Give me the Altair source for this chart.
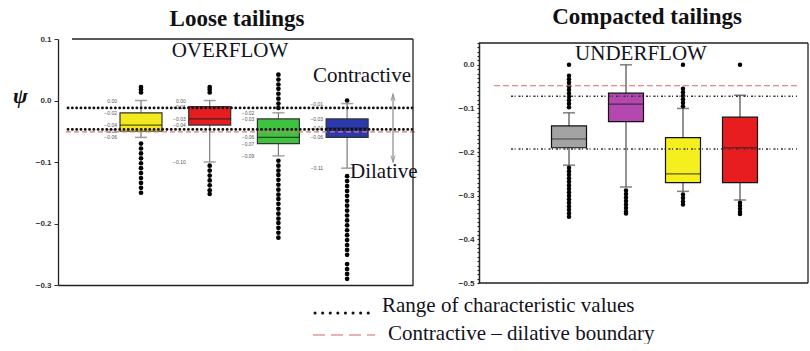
import altair as alt
import pandas as pd

SERIF = "Liberation Serif"
SANS = "Liberation Sans"

# ---------------- Loose tailings: overflow samples ----------------
of_groups = ["OF1", "OF2", "OF3", "OF4"]
of_fill = ["#f2ea1e", "#e41d20", "#3fc23f", "#2a3aac"]
of_whisker_lo = [-0.06, -0.10, -0.09, -0.11]
of_q1 = [-0.05, -0.04, -0.07, -0.06]
of_median = [-0.04, -0.03, -0.06, -0.045]
of_q3 = [-0.02, -0.01, -0.03, -0.03]
of_whisker_hi = [0.00, 0.00, -0.02, -0.005]

of1_outliers = [0.022, 0.018, 0.013, -0.070, -0.078, -0.086, -0.094, -0.102,
                -0.110, -0.118, -0.126, -0.134, -0.142, -0.150]
of2_outliers = [0.022, 0.018, 0.013, -0.106, -0.114, -0.122, -0.130, -0.138,
                -0.146, -0.152]
of3_outliers = [0.042, 0.034, 0.026, 0.019, 0.011, 0.003, -0.005, -0.012,
                -0.098, -0.106, -0.114, -0.121, -0.129, -0.137, -0.145, -0.153,
                -0.160, -0.168, -0.176, -0.184, -0.192, -0.199, -0.207, -0.215,
                -0.223]
of4_outliers = [0.000, -0.123, -0.131, -0.139, -0.147, -0.155, -0.163, -0.171,
                -0.179, -0.187, -0.195, -0.203, -0.211, -0.219, -0.227, -0.235,
                -0.243, -0.251, -0.266, -0.274, -0.282, -0.290]

of_char_range = [-0.012, -0.047]
of_boundary = -0.051
of_ticks = [0.1, 0.0, -0.1, -0.2, -0.3]

# ---------------- Compacted tailings: underflow samples ----------------
uf_groups = ["UF1", "UF2", "UF3", "UF4"]
uf_fill = ["#a3a3a3", "#b548b0", "#f6ef1e", "#e81d1f"]
uf_whisker_lo = [-0.23, -0.28, -0.29, -0.31]
uf_q1 = [-0.19, -0.13, -0.27, -0.27]
uf_median = [-0.17, -0.09, -0.25, -0.19]
uf_q3 = [-0.14, -0.065, -0.167, -0.12]
uf_whisker_hi = [-0.11, 0.00, -0.10, -0.07]

uf1_outliers = [0.000, -0.025, -0.033, -0.041, -0.049, -0.057, -0.065, -0.073,
                -0.081, -0.089, -0.097, -0.236, -0.244, -0.252, -0.260, -0.268,
                -0.276, -0.284, -0.292, -0.300, -0.308, -0.316, -0.324, -0.332,
                -0.340, -0.348]
uf2_outliers = [-0.288, -0.296, -0.304, -0.312, -0.320, -0.328, -0.336, -0.341]
uf3_outliers = [0.000, -0.055, -0.063, -0.071, -0.079, -0.087, -0.095,
                -0.297, -0.305, -0.313, -0.320]
uf4_outliers = [0.000, -0.316, -0.323, -0.330, -0.337, -0.342]

uf_char_range = [-0.072, -0.193]
uf_boundary = -0.048
uf_minor_ticks = [round(-0.5 + 0.01 * i, 2) for i in range(56)]

# ---------------- texts ----------------
title_left = "Loose tailings"
title_right = "Compacted tailings"
tag_left = "OVERFLOW"
tag_right = "UNDERFLOW"
zone_up = "Contractive"
zone_down = "Dilative"
y_symbol = "ψ"
legend_range = "Range of characteristic values"
legend_boundary = "Contractive – dilative boundary"

INK = "#12121c"


def box_table(groups, fill, lo, q1, med, q3, hi):
    return pd.DataFrame({"grp": groups, "fill": fill, "lo": lo, "q1": q1,
                         "med": med, "q3": q3, "hi": hi})


def outlier_table(groups, lists):
    rows = [{"grp": g, "v": v} for g, vals in zip(groups, lists) for v in vals]
    return pd.DataFrame(rows)


def text(label, x, y, size, align="left", weight="normal", style="normal",
         font=SERIF, color=INK, baseline="alphabetic"):
    return alt.Chart(pd.DataFrame({"label": [label]})).mark_text(
        align=align, baseline=baseline, font=font, fontSize=size,
        fontWeight=weight, fontStyle=style, color=color,
    ).encode(x=alt.value(x), y=alt.value(y), text="label:N")


class Panel:
    """Helper holding the shared y scale/axis of one box-plot panel."""

    def __init__(self, yscale, yaxis):
        self.yscale = yscale
        self.yaxis = yaxis

    def Y(self, field):
        return alt.Y(field, scale=self.yscale, axis=self.yaxis, title=None)

    def hline(self, value, x0, x1, color, width, dash, cap="butt"):
        return alt.Chart(pd.DataFrame({"v": [value]})).mark_rule(
            color=color, strokeWidth=width, strokeDash=dash, strokeCap=cap
        ).encode(y=self.Y("v:Q"), x=alt.value(x0), x2=alt.value(x1))

    def vline(self, top, bottom, x, color, width):
        return alt.Chart(pd.DataFrame({"a": [top], "b": [bottom]})).mark_rule(
            color=color, strokeWidth=width
        ).encode(y=self.Y("a:Q"), y2="b:Q", x=alt.value(x))

    def boxes(self, boxes, outs, x, whisker_color, box_stroke, cap_size,
              box_size, dot_size):
        base = alt.Chart(boxes)
        whisk = base.mark_rule(color=whisker_color, strokeWidth=1.2).encode(
            x=x, y=self.Y("lo:Q"), y2="hi:Q")
        cap_lo = base.mark_tick(color=whisker_color, size=cap_size, thickness=1.5,
                                orient="horizontal").encode(x=x, y=self.Y("lo:Q"))
        cap_hi = base.mark_tick(color=whisker_color, size=cap_size, thickness=1.5,
                                orient="horizontal").encode(x=x, y=self.Y("hi:Q"))
        box = base.mark_bar(stroke=box_stroke, strokeWidth=1.2).encode(
            x=x, y=self.Y("q1:Q"), y2="q3:Q",
            fill=alt.Fill("fill:N", scale=None))
        med = base.mark_tick(color="#1a1a1a", size=box_size, thickness=1.2,
                             orient="horizontal").encode(x=x, y=self.Y("med:Q"))
        dots = alt.Chart(outs).mark_circle(color="black", opacity=1, size=dot_size).encode(
            x=x, y=self.Y("v:Q"))
        return [whisk, cap_lo, cap_hi, box, med, dots]


# ================= left panel =================
LW, LH = 355, 246
of_boxes = box_table(of_groups, of_fill, of_whisker_lo, of_q1, of_median, of_q3, of_whisker_hi)
of_outs = outlier_table(of_groups, [of1_outliers, of2_outliers, of3_outliers, of4_outliers])

x_left = alt.X("grp:N", title=None,
               scale=alt.Scale(domain=of_groups, paddingInner=0.389,
                               paddingOuter=0.778, align=0.58),
               axis=alt.Axis(labels=False, ticks=False, domainColor="#222",
                             domainWidth=1.3, grid=False))
lp = Panel(
    alt.Scale(domain=[-0.3, 0.1], nice=False, zero=False),
    alt.Axis(values=of_ticks, format=".1f", labelFont=SANS,
             labelFontSize=8, labelFontWeight="bold", labelColor="#333",
             tickColor="#333", tickSize=4, domainColor="#222",
             domainWidth=1.3, grid=False, labelPadding=3,
             labelFlush=False, labelOverlap=False),
)

left_layers = lp.boxes(of_boxes, of_outs, x_left, "#7a7a7a", "#333", 12, 42, 22)

# tiny value labels to the left of each box
of_stats = of_boxes.melt(id_vars=["grp"], value_vars=["lo", "q1", "med", "q3", "hi"],
                         var_name="stat", value_name="v")
left_layers.append(
    alt.Chart(of_stats).mark_text(align="right", baseline="middle", dx=-24,
                                  fontSize=5, font=SANS, color="#555").encode(
        x=x_left, y=lp.Y("v:Q"), text=alt.Text("v:Q", format=".2f"))
)

# characteristic range (dotted) and contractive/dilative boundary (dashed)
left_layers.append(lp.hline(of_boundary, 8, 357, "#e07878", 1.2, [5, 3]))
for v in of_char_range:
    left_layers.append(lp.hline(v, 10, 357, "#111", 2.8, [0.1, 4.2], "round"))

# frame: top and right edges
left_layers.append(lp.hline(0.1, 14, LW, "#222", 1.3, [1, 0]))
left_layers.append(lp.vline(0.1, -0.3, LW, "#222", 1.3))

# double-headed arrow between the two zones
arrow = pd.DataFrame({"a": [0.01], "b": [-0.1]})
left_layers.append(lp.vline(0.01, -0.1, 335, "#8a8a8a", 1.2))
left_layers.append(alt.Chart(arrow).mark_point(shape="M-0.5,1.6L0,0L0.5,1.6", filled=False,
                                               color="#8a8a8a", size=64, strokeWidth=1.2)
                   .encode(y=lp.Y("a:Q"), x=alt.value(335)))
left_layers.append(alt.Chart(arrow).mark_point(shape="M-0.5,-1.6L0,0L0.5,-1.6", filled=False,
                                               color="#8a8a8a", size=64, strokeWidth=1.2)
                   .encode(y=lp.Y("b:Q"), x=alt.value(335)))

left_layers += [
    text(title_left, 179, -13, 23, align="center", weight="bold", color="#111"),
    text(tag_left, 172, 18, 21, align="center"),
    text(zone_up, 255, 43, 21),
    text(zone_down, 292, 139, 21),
    text(y_symbol, -45, 57, 22, weight="bold", style="italic", baseline="middle", color="#111"),
]

# legend under both panels
left_layers += [
    alt.Chart(pd.DataFrame({"k": [0]})).mark_rule(color="#111", strokeWidth=3, strokeDash=[0.1, 7.5],
                                                 strokeCap="round")
    .encode(x=alt.value(257), x2=alt.value(317), y=alt.value(274)),
    alt.Chart(pd.DataFrame({"k": [0]})).mark_rule(color="#e09a9a", strokeWidth=1.3, strokeDash=[12, 6])
    .encode(x=alt.value(255), x2=alt.value(317), y=alt.value(296)),
    text(legend_range, 324, 273, 21),
    text(legend_boundary, 330, 301, 21),
]

left = alt.layer(*left_layers).properties(width=LW, height=LH)

# ================= right panel =================
RW, RH = 329, 244
uf_boxes = box_table(uf_groups, uf_fill, uf_whisker_lo, uf_q1, uf_median, uf_q3, uf_whisker_hi)
uf_outs = outlier_table(uf_groups, [uf1_outliers, uf2_outliers, uf3_outliers, uf4_outliers])

x_right = alt.X("grp:N", title=None,
                scale=alt.Scale(domain=uf_groups, range=[44, 307], paddingInner=0.386,
                                paddingOuter=0.5, align=0.5),
                axis=alt.Axis(labels=False, ticks=False, domain=False, grid=False))
rp = Panel(
    alt.Scale(domain=[-0.5, 0.05], range=[RH, 4], nice=False, zero=False),
    alt.Axis(
        values=uf_minor_ticks,
        labelExpr="abs(datum.value * 10 - round(datum.value * 10)) < 0.001 ? format(datum.value, '.1f') : ''",
        labelFont=SANS, labelFontSize=8, labelFontWeight="bold", labelColor="#333",
        tickColor="#222", tickSize=2, tickWidth=1.2, domainColor="#222", domainWidth=1.5,
        grid=False, labelPadding=3, labelFlush=False, labelOverlap=False),
)

right_layers = rp.boxes(uf_boxes, uf_outs, x_right, "#4a4a4a", "#111", 12, 35, 20)

right_layers.append(rp.hline(uf_boundary, 15, 318, "#e06a6a", 1.2, [6, 3]))
for v in uf_char_range:
    right_layers.append(rp.hline(v, 32, 318, "#333", 1.5, [2, 1.5, 1, 3]))

# frame: top, bottom and right edges
right_layers.append(rp.hline(0.05, 0, RW, "#222", 1.3, [1, 0]))
right_layers.append(rp.hline(-0.5, 0, RW, "#222", 1.5, [1, 0]))
right_layers.append(rp.vline(0.05, -0.5, RW, "#222", 1.3))

right_layers += [
    text(title_right, 168, -15, 23, align="center", weight="bold", color="#111"),
    text(tag_right, 162, 21, 21, align="center"),
]

right = alt.layer(*right_layers).properties(width=RW, height=RH)

chart = (
    alt.hconcat(left, right, spacing=66, bounds="flush")
    .properties(padding={"left": 13, "top": 6, "right": 0, "bottom": 0})
    .configure_view(stroke=None)
)

chart.save("out.html", embed_options={"renderer": "svg", "actions": False})
